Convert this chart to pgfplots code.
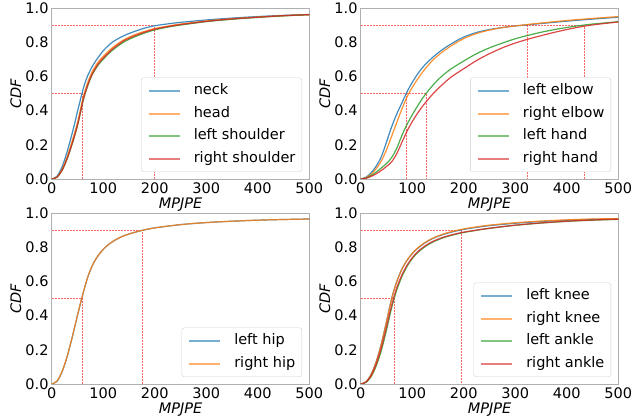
\documentclass[border=0pt]{standalone}
\usepackage{fontspec}
\setmainfont{DejaVu Sans}
\usepackage{pgfplots}
\pgfplotsset{compat=1.18}

\definecolor{tabblue}{HTML}{1F77B4}
\definecolor{taborange}{HTML}{FF7F0E}
\definecolor{tabgreen}{HTML}{2CA02C}
\definecolor{tabred}{HTML}{D62728}
\definecolor{framegray}{HTML}{B0B0B0}

\newcommand{\fs}{\fontsize{14.5bp}{17bp}\selectfont}

\pgfplotsset{
  cdfaxis/.style={
    scale only axis, width=257.6bp, height=171bp,
    xmin=0, xmax=500, ymin=0, ymax=1,
    xtick={0,100,...,500}, ytick={0,0.2,0.4,0.6,0.8,1},
    /pgf/number format/assume math mode=true,
    yticklabel style={/pgf/number format/fixed, /pgf/number format/fixed zerofill,
      /pgf/number format/precision=1},
    axis line style={framegray, line width=0.8bp},
    major tick length=0pt,
    tick label style={font=\fs, inner sep=0pt},
    xticklabel style={anchor=north, yshift=-3.7bp},
    yticklabel style={anchor=east, xshift=-3bp},
    xlabel={\itshape MPJPE}, ylabel={\itshape CDF},
    label style={font=\fs},
    xlabel style={at={(axis description cs:0.5,0)}, anchor=north, inner sep=0pt, yshift=-18.5bp},
    ylabel style={at={(axis description cs:-0.119,0.5)}, anchor=base, inner sep=0pt},
    legend cell align=left,
    legend style={at={(0.972,0.041)}, anchor=south east, draw=black!18,
      rounded corners=2.5bp, fill=white,
      inner sep=6.5bp, row sep=9bp, column sep=13bp, font=\fs,
      nodes={inner sep=0pt, text height=10.5bp, text depth=3bp}},
    legend image code/.code={\draw[#1, opacity=0.6, line width=2bp] (0bp,0bp) -- (31bp,0bp);},
  },
  cdf/.style={line width=1.2bp, opacity=0.85, smooth},
  refline/.style={red, line width=0.6bp, dash pattern=on 2bp off 1bp, opacity=0.6, forget plot},
}

\begin{document}
\begin{tikzpicture}
\path[use as bounding box] (0,0) rectangle (643bp,417bp);

% neck / head / shoulders
\begin{axis}[cdfaxis, at={(51.7bp,238bp)}, anchor=south west]
  \addplot[refline] coordinates {(0,0.5) (60,0.5) (60,0)};
  \addplot[refline] coordinates {(0,0.9) (200,0.9) (200,0)};
  \addplot[cdf, tabblue] coordinates {(0,0)(10,0.015)(20,0.07)(30,0.16)(40,0.27)(45,0.33)(50,0.395)(55,0.455)(60,0.515)(65,0.565)(70,0.605)(80,0.665)(90,0.71)(100,0.75)(110,0.78)(120,0.805)(140,0.838)(160,0.862)(180,0.882)(200,0.896)(225,0.907)(250,0.916)(300,0.93)(350,0.941)(400,0.95)(450,0.957)(500,0.962)};
  \addlegendentry{neck}
  \addplot[cdf, taborange] coordinates {(0,0)(10,0.011)(20,0.055)(30,0.13)(40,0.225)(45,0.275)(50,0.33)(55,0.395)(60,0.465)(65,0.52)(70,0.565)(75,0.603)(80,0.635)(90,0.683)(100,0.717)(110,0.747)(120,0.773)(140,0.814)(160,0.842)(180,0.863)(200,0.88)(225,0.894)(250,0.906)(300,0.924)(350,0.937)(400,0.947)(450,0.955)(500,0.961)};
  \addlegendentry{head}
  \addplot[cdf, tabgreen] coordinates {(0,0)(10,0.01)(20,0.05)(30,0.118)(40,0.207)(45,0.257)(50,0.312)(55,0.376)(60,0.445)(65,0.5)(70,0.545)(75,0.585)(80,0.617)(90,0.665)(100,0.7)(110,0.731)(120,0.758)(140,0.801)(160,0.83)(180,0.853)(200,0.872)(225,0.888)(250,0.9)(300,0.92)(350,0.934)(400,0.945)(450,0.954)(500,0.961)};
  \addlegendentry{left shoulder}
  \addplot[cdf, tabred] coordinates {(0,0)(10,0.01)(20,0.05)(30,0.12)(40,0.21)(45,0.26)(50,0.315)(55,0.38)(60,0.45)(65,0.505)(70,0.55)(75,0.59)(80,0.622)(90,0.672)(100,0.707)(110,0.738)(120,0.765)(140,0.808)(160,0.836)(180,0.858)(200,0.876)(225,0.891)(250,0.903)(300,0.922)(350,0.936)(400,0.946)(450,0.955)(500,0.961)};
  \addlegendentry{right shoulder}
\end{axis}

% elbows / hands
\begin{axis}[cdfaxis, at={(360.7bp,238bp)}, anchor=south west]
  \addplot[refline] coordinates {(0,0.5) (127,0.5) (127,0)};
  \addplot[refline] coordinates {(89,0.5) (89,0)};
  \addplot[refline] coordinates {(0,0.9) (434,0.9) (434,0)};
  \addplot[refline] coordinates {(324,0.9) (324,0)};
  \addplot[cdf, tabblue] coordinates {(0,0)(10,0.01)(20,0.035)(30,0.075)(40,0.13)(50,0.215)(60,0.305)(70,0.38)(80,0.445)(90,0.51)(100,0.565)(110,0.612)(120,0.652)(130,0.684)(140,0.712)(150,0.737)(160,0.76)(180,0.798)(200,0.83)(225,0.857)(250,0.874)(275,0.886)(300,0.895)(325,0.902)(350,0.909)(400,0.923)(450,0.935)(500,0.946)};
  \addlegendentry{left elbow}
  \addplot[cdf, taborange] coordinates {(0,0)(10,0.007)(20,0.027)(30,0.06)(40,0.105)(50,0.17)(60,0.25)(70,0.33)(80,0.41)(90,0.48)(100,0.535)(110,0.582)(120,0.625)(130,0.662)(140,0.695)(150,0.722)(160,0.746)(180,0.787)(200,0.821)(225,0.851)(250,0.871)(275,0.885)(300,0.895)(325,0.904)(350,0.912)(400,0.927)(450,0.939)(500,0.95)};
  \addlegendentry{right elbow}
  \addplot[cdf, tabgreen] coordinates {(0,0)(10,0.005)(20,0.02)(30,0.04)(40,0.065)(50,0.09)(60,0.125)(70,0.18)(80,0.255)(90,0.32)(100,0.375)(110,0.425)(120,0.472)(130,0.512)(140,0.548)(150,0.58)(160,0.608)(175,0.643)(200,0.69)(225,0.733)(250,0.767)(275,0.795)(300,0.82)(325,0.84)(350,0.858)(375,0.873)(400,0.886)(425,0.897)(450,0.906)(475,0.913)(500,0.92)};
  \addlegendentry{left hand}
  \addplot[cdf, tabred] coordinates {(0,0)(10,0.004)(20,0.015)(30,0.03)(40,0.05)(50,0.073)(60,0.1)(70,0.148)(80,0.215)(90,0.28)(100,0.335)(110,0.383)(120,0.425)(130,0.463)(140,0.497)(150,0.528)(160,0.556)(175,0.595)(200,0.645)(225,0.693)(250,0.733)(275,0.767)(300,0.795)(325,0.818)(350,0.838)(375,0.857)(400,0.874)(425,0.889)(450,0.901)(475,0.91)(500,0.918)};
  \addlegendentry{right hand}
\end{axis}

% hips
\begin{axis}[cdfaxis, at={(51.7bp,33bp)}, anchor=south west]
  \addplot[refline] coordinates {(0,0.5) (60,0.5) (60,0)};
  \addplot[refline] coordinates {(0,0.9) (176,0.9) (176,0)};
  \addplot[cdf, tabblue] coordinates {(0,0)(10,0.015)(20,0.07)(30,0.16)(40,0.275)(50,0.4)(60,0.52)(70,0.625)(80,0.7)(90,0.75)(100,0.787)(110,0.815)(125,0.845)(140,0.867)(160,0.886)(175,0.898)(200,0.913)(250,0.932)(300,0.944)(350,0.952)(400,0.958)(450,0.962)(500,0.965)};
  \addlegendentry{left hip}
  \addplot[cdf, taborange] coordinates {(0,0)(10,0.016)(20,0.072)(30,0.162)(40,0.277)(50,0.402)(60,0.521)(70,0.626)(80,0.7)(90,0.75)(100,0.787)(110,0.815)(125,0.845)(140,0.867)(160,0.886)(175,0.898)(200,0.913)(250,0.932)(300,0.944)(350,0.952)(400,0.958)(450,0.962)(500,0.965)};
  \addlegendentry{right hip}
\end{axis}

% knees / ankles
\begin{axis}[cdfaxis, at={(360.7bp,33bp)}, anchor=south west]
  \addplot[refline] coordinates {(0,0.5) (65,0.5) (65,0)};
  \addplot[refline] coordinates {(0,0.9) (196,0.9) (196,0)};
  \addplot[cdf, tabblue] coordinates {(0,0)(10,0.012)(20,0.055)(30,0.13)(40,0.235)(50,0.365)(60,0.5)(70,0.6)(80,0.672)(90,0.724)(100,0.762)(110,0.792)(125,0.826)(140,0.851)(160,0.874)(180,0.891)(200,0.904)(225,0.916)(250,0.926)(300,0.94)(350,0.95)(400,0.958)(450,0.963)(500,0.966)};
  \addlegendentry{left knee}
  \addplot[cdf, taborange] coordinates {(0,0)(10,0.012)(20,0.054)(30,0.128)(40,0.232)(50,0.362)(60,0.497)(70,0.598)(80,0.671)(90,0.724)(100,0.763)(110,0.794)(125,0.828)(140,0.853)(160,0.877)(180,0.894)(200,0.907)(225,0.919)(250,0.929)(300,0.943)(350,0.953)(400,0.96)(450,0.965)(500,0.967)};
  \addlegendentry{right knee}
  \addplot[cdf, tabgreen] coordinates {(0,0)(10,0.009)(20,0.042)(30,0.105)(40,0.195)(50,0.315)(60,0.445)(65,0.5)(70,0.55)(80,0.628)(90,0.688)(100,0.733)(110,0.767)(125,0.803)(140,0.83)(160,0.855)(180,0.872)(200,0.886)(225,0.899)(250,0.91)(300,0.928)(350,0.941)(400,0.951)(450,0.958)(500,0.963)};
  \addlegendentry{left ankle}
  \addplot[cdf, tabred] coordinates {(0,0)(10,0.01)(20,0.047)(30,0.115)(40,0.21)(50,0.333)(60,0.46)(70,0.563)(80,0.638)(90,0.695)(100,0.738)(110,0.772)(125,0.808)(140,0.834)(160,0.858)(180,0.875)(200,0.888)(225,0.9)(250,0.911)(300,0.929)(350,0.942)(400,0.952)(450,0.959)(500,0.964)};
  \addlegendentry{right ankle}
\end{axis}
\end{tikzpicture}
\end{document}
